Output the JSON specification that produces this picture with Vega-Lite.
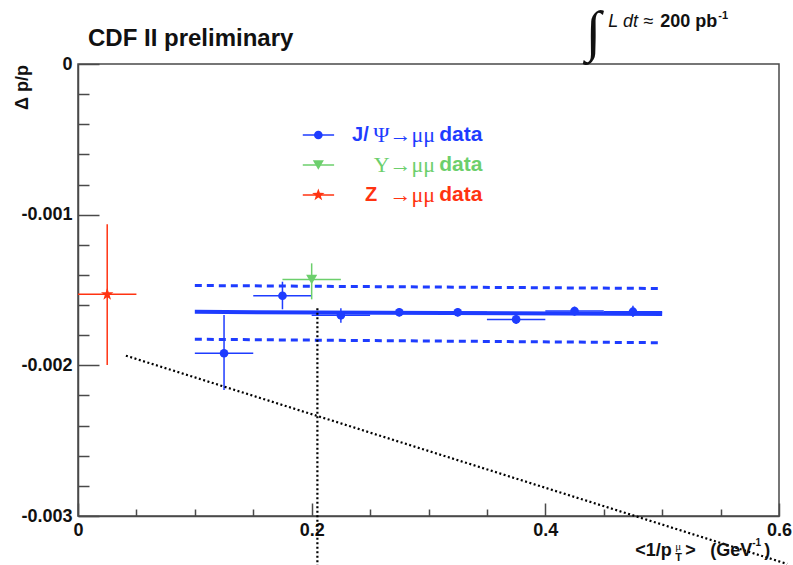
{
  "$schema": "https://vega.github.io/schema/vega-lite/v6.json",
  "width": 701,
  "height": 452,
  "autosize": {"type": "none"},
  "padding": {"left": 78, "top": 64, "right": 14, "bottom": 49},
  "background": "white",
  "config": {
    "view": {"stroke": "#4a4a4a", "strokeWidth": 1.5},
    "axis": {
      "grid": false,
      "domainColor": "#4a4a4a",
      "domainWidth": 1.5,
      "tickColor": "#4a4a4a",
      "tickWidth": 1.5,
      "labelFont": "Liberation Sans",
      "labelFontWeight": "bold",
      "labelFontSize": 18,
      "labelColor": "#111111",
      "labelFlush": false,
      "labelOverlap": false,
      "labelBound": false
    },
    "text": {"font": "Liberation Sans", "color": "#111111"}
  },
  "datasets": {
    "meas": [
      {"series": "J/psi", "x": 0.125, "xlo": 0.1, "xhi": 0.15, "y": -0.00192, "ylo": -0.002164, "yhi": -0.001666},
      {"series": "J/psi", "x": 0.175, "xlo": 0.15, "xhi": 0.2, "y": -0.001538, "ylo": -0.001628, "yhi": -0.001445},
      {"series": "J/psi", "x": 0.225, "xlo": 0.2, "xhi": 0.25, "y": -0.001668, "ylo": -0.001718, "yhi": -0.001621},
      {"series": "J/psi", "x": 0.275, "xlo": 0.25, "xhi": 0.3, "y": -0.001648, "ylo": -0.001675, "yhi": -0.00162},
      {"series": "J/psi", "x": 0.325, "xlo": 0.3, "xhi": 0.35, "y": -0.001648, "ylo": -0.001675, "yhi": -0.00162},
      {"series": "J/psi", "x": 0.375, "xlo": 0.35, "xhi": 0.4, "y": -0.001695, "ylo": -0.001725, "yhi": -0.001665},
      {"series": "J/psi", "x": 0.425, "xlo": 0.4, "xhi": 0.45, "y": -0.00164, "ylo": -0.00167, "yhi": -0.00161},
      {"series": "J/psi", "x": 0.475, "xlo": 0.45, "xhi": 0.5, "y": -0.001644, "ylo": -0.00168, "yhi": -0.001605},
      {"series": "Upsilon", "x": 0.2, "xlo": 0.175, "xhi": 0.225, "y": -0.00143, "ylo": -0.001562, "yhi": -0.001323},
      {"series": "Z", "x": 0.025, "xlo": 0.0, "xhi": 0.05, "y": -0.001529, "ylo": -0.001998, "yhi": -0.001064}
    ],
    "fit": [
      {"band": "fit", "x": 0.1, "y": -0.001645},
      {"band": "fit", "x": 0.5, "y": -0.00166},
      {"band": "upper", "x": 0.1, "y": -0.00147},
      {"band": "upper", "x": 0.5, "y": -0.00149},
      {"band": "lower", "x": 0.1, "y": -0.001827},
      {"band": "lower", "x": 0.5, "y": -0.00185}
    ],
    "guides": [
      {"name": "slope", "x": 0.041, "y": -0.001936},
      {"name": "slope", "x": 0.607, "y": -0.003318},
      {"name": "cut", "x": 0.2049, "y": -0.001621},
      {"name": "cut", "x": 0.2049, "y": -0.003325}
    ],
    "legend": [
      {"series": "J/psi", "y": -0.000471},
      {"series": "Upsilon", "y": -0.00067},
      {"series": "Z", "y": -0.000869}
    ],
    "anchor": [{}]
  },
  "layer": [
    {
      "data": {"name": "meas"},
      "mark": {"type": "rule", "strokeWidth": 1.5},
      "encoding": {
        "x": {
          "field": "xlo", "type": "quantitative", "title": null,
          "scale": {"domain": [0, 0.6], "nice": false},
          "axis": {
            "values": [0, 0.05, 0.1, 0.15, 0.2, 0.25, 0.3, 0.35, 0.4, 0.45, 0.5, 0.55, 0.6],
            "tickCount": 30,
            "labelExpr": "abs(datum.value*5 - round(datum.value*5)) < 1e-6 ? (datum.value == 0 ? '0' : format(datum.value, '.1f')) : ''",
            "tickSize": {"condition": {"test": "abs(datum.value*5 - round(datum.value*5)) < 1e-6", "value": -13}, "value": -7},
            "labelPadding": 18,
            "labelOverlap": false,
            "labelFlush": false
          }
        },
        "x2": {"field": "xhi"},
        "y": {
          "field": "y", "type": "quantitative", "title": null,
          "scale": {"domain": [-0.003, 0], "nice": false},
          "axis": {
            "values": [-0.003, -0.0028, -0.0026, -0.0024, -0.0022, -0.002, -0.0018, -0.0016, -0.0014, -0.0012, -0.001, -0.0008, -0.0006, -0.0004, -0.0002, 0],
            "tickCount": 30,
            "labelExpr": "abs(datum.value*1000 - round(datum.value*1000)) < 1e-6 ? (datum.value == 0 ? '0' : '-0.00' + round(-datum.value*1000)) : ''",
            "tickSize": {"condition": {"test": "abs(datum.value*1000 - round(datum.value*1000)) < 1e-6", "value": -21}, "value": -11},
            "labelPadding": 27,
            "labelOverlap": false,
            "labelFlush": false
          }
        },
        "color": {"field": "series", "type": "nominal", "legend": null,
          "scale": {"domain": ["J/psi", "Upsilon", "Z"], "range": ["#1e3cff", "#6ccf6c", "#ff3311"]}}
      }
    },
    {
      "data": {"name": "meas"},
      "mark": {"type": "rule", "strokeWidth": 1.5},
      "encoding": {
        "x": {"field": "x", "type": "quantitative", "title": null, "scale": {"domain": [0, 0.6], "nice": false}},
        "y": {"field": "ylo", "type": "quantitative", "title": null, "scale": {"domain": [-0.003, 0], "nice": false}},
        "y2": {"field": "yhi"},
        "color": {"field": "series", "type": "nominal", "legend": null}
      }
    },
    {
      "data": {"name": "fit"},
      "transform": [{"filter": "datum.band == 'fit'"}],
      "mark": {"type": "line", "strokeWidth": 4, "color": "#1e3cff"},
      "encoding": {
        "x": {"field": "x", "type": "quantitative", "title": null, "scale": {"domain": [0, 0.6], "nice": false}},
        "y": {"field": "y", "type": "quantitative", "title": null, "scale": {"domain": [-0.003, 0], "nice": false}}
      }
    },
    {
      "data": {"name": "fit"},
      "transform": [{"filter": "datum.band != 'fit'"}],
      "mark": {"type": "line", "strokeWidth": 3, "color": "#1e3cff", "strokeDash": [7, 5], "strokeCap": "butt"},
      "encoding": {
        "x": {"field": "x", "type": "quantitative", "title": null, "scale": {"domain": [0, 0.6], "nice": false}},
        "y": {"field": "y", "type": "quantitative", "title": null, "scale": {"domain": [-0.003, 0], "nice": false}},
        "detail": {"field": "band", "type": "nominal"}
      }
    },
    {
      "data": {"name": "guides"},
      "mark": {"type": "line", "strokeWidth": 2.2, "color": "#000000", "strokeDash": [2, 2.5], "strokeCap": "butt"},
      "encoding": {
        "x": {"field": "x", "type": "quantitative", "title": null, "scale": {"domain": [0, 0.6], "nice": false}},
        "y": {"field": "y", "type": "quantitative", "title": null, "scale": {"domain": [-0.003, 0], "nice": false}},
        "detail": {"field": "name", "type": "nominal"}
      }
    },
    {
      "data": {"name": "meas"},
      "mark": {"type": "point", "filled": true, "opacity": 1},
      "encoding": {
        "x": {"field": "x", "type": "quantitative", "title": null, "scale": {"domain": [0, 0.6], "nice": false}},
        "y": {"field": "y", "type": "quantitative", "title": null, "scale": {"domain": [-0.003, 0], "nice": false}},
        "color": {"field": "series", "type": "nominal", "legend": null},
        "shape": {"field": "series", "type": "nominal", "legend": null,
          "scale": {"domain": ["J/psi", "Upsilon", "Z"],
            "range": ["circle", "triangle-down", "M0,-1L0.235,-0.324L0.951,-0.309L0.38,0.124L0.588,0.809L0,0.4L-0.588,0.809L-0.38,0.124L-0.951,-0.309L-0.235,-0.324Z"]}},
        "size": {"field": "series", "type": "nominal", "legend": null,
          "scale": {"domain": ["J/psi", "Upsilon", "Z"], "range": [75, 170, 210]}}
      }
    },
    {
      "data": {"name": "legend"},
      "mark": {"type": "rule", "strokeWidth": 1.5},
      "encoding": {
        "x": {"datum": 0.1924, "type": "quantitative", "title": null, "scale": {"domain": [0, 0.6], "nice": false}},
        "x2": {"datum": 0.2192},
        "y": {"field": "y", "type": "quantitative", "title": null, "scale": {"domain": [-0.003, 0], "nice": false}},
        "color": {"field": "series", "type": "nominal", "legend": null}
      }
    },
    {
      "data": {"name": "legend"},
      "mark": {"type": "point", "filled": true, "opacity": 1},
      "encoding": {
        "x": {"datum": 0.2057, "type": "quantitative", "title": null, "scale": {"domain": [0, 0.6], "nice": false}},
        "y": {"field": "y", "type": "quantitative", "title": null, "scale": {"domain": [-0.003, 0], "nice": false}},
        "color": {"field": "series", "type": "nominal", "legend": null},
        "shape": {"field": "series", "type": "nominal", "legend": null},
        "size": {"field": "series", "type": "nominal", "legend": null}
      }
    },
    {
      "data": {"name": "legend"},
      "transform": [{"filter": "datum.series == 'J/psi'"}],
      "mark": {"type": "text", "align": "left", "baseline": "middle", "font": "Liberation Sans", "fontWeight": "bold", "fontSize": 20},
      "encoding": {
        "x": {"datum": 0.2346, "type": "quantitative", "title": null, "scale": {"domain": [0, 0.6], "nice": false}},
        "y": {"field": "y", "type": "quantitative", "title": null, "scale": {"domain": [-0.003, 0], "nice": false}},
        "text": {"value": "J/"},
        "color": {"field": "series", "type": "nominal", "legend": null}
      }
    },
    {
      "data": {"name": "legend"},
      "transform": [{"filter": "datum.series == 'Z'"}],
      "mark": {"type": "text", "align": "left", "baseline": "middle", "font": "Liberation Sans", "fontWeight": "bold", "fontSize": 20},
      "encoding": {
        "x": {"datum": 0.2457, "type": "quantitative", "title": null, "scale": {"domain": [0, 0.6], "nice": false}},
        "y": {"field": "y", "type": "quantitative", "title": null, "scale": {"domain": [-0.003, 0], "nice": false}},
        "text": {"value": "Z"},
        "color": {"field": "series", "type": "nominal", "legend": null}
      }
    },
    {
      "data": {"name": "legend"},
      "transform": [{"calculate": "datum.series == 'J/psi' ? 'Ψ→μμ' : datum.series == 'Upsilon' ? 'Υ→μμ' : '→μμ'", "as": "label"}],
      "mark": {"type": "text", "align": "right", "baseline": "middle", "font": "Liberation Serif", "fontSize": 22},
      "encoding": {
        "x": {"datum": 0.3057, "type": "quantitative", "title": null, "scale": {"domain": [0, 0.6], "nice": false}},
        "y": {"field": "y", "type": "quantitative", "title": null, "scale": {"domain": [-0.003, 0], "nice": false}},
        "text": {"field": "label"},
        "color": {"field": "series", "type": "nominal", "legend": null}
      }
    },
    {
      "data": {"name": "legend"},
      "mark": {"type": "text", "align": "left", "baseline": "middle", "font": "Liberation Sans", "fontWeight": "bold", "fontSize": 21},
      "encoding": {
        "x": {"datum": 0.3091, "type": "quantitative", "title": null, "scale": {"domain": [0, 0.6], "nice": false}},
        "y": {"field": "y", "type": "quantitative", "title": null, "scale": {"domain": [-0.003, 0], "nice": false}},
        "text": {"value": "data"},
        "color": {"field": "series", "type": "nominal", "legend": null}
      }
    },
    {
      "data": {"name": "anchor"},
      "mark": {"type": "text", "align": "left", "baseline": "alphabetic", "fontWeight": "bold", "fontSize": 24},
      "encoding": {
        "x": {"datum": 0.00856, "type": "quantitative", "title": null, "scale": {"domain": [0, 0.6], "nice": false}},
        "y": {"datum": 0.0001195, "type": "quantitative", "title": null, "scale": {"domain": [-0.003, 0], "nice": false}},
        "text": {"value": "CDF II preliminary"}
      }
    },
    {
      "data": {"name": "anchor"},
      "mark": {"type": "text", "align": "right", "baseline": "middle", "fontWeight": "bold", "fontSize": 18, "angle": 270},
      "encoding": {
        "x": {"datum": -0.04709, "type": "quantitative", "title": null, "scale": {"domain": [0, 0.6], "nice": false}},
        "y": {"datum": -0.000007, "type": "quantitative", "title": null, "scale": {"domain": [-0.003, 0], "nice": false}},
        "text": {"value": "Δ p/p"}
      }
    },
    {
      "data": {"name": "anchor"},
      "mark": {"type": "text", "align": "center", "baseline": "middle", "font": "Liberation Serif", "fontSize": 56},
      "encoding": {
        "x": {"datum": 0.4409, "type": "quantitative", "title": null, "scale": {"domain": [0, 0.6], "nice": false}},
        "y": {"datum": 0.000205, "type": "quantitative", "title": null, "scale": {"domain": [-0.003, 0], "nice": false}},
        "text": {"value": "∫"}
      }
    },
    {
      "data": {"name": "anchor"},
      "mark": {"type": "text", "align": "left", "baseline": "alphabetic", "fontStyle": "italic", "fontSize": 18},
      "encoding": {
        "x": {"datum": 0.4538, "type": "quantitative", "title": null, "scale": {"domain": [0, 0.6], "nice": false}},
        "y": {"datum": 0.0002456, "type": "quantitative", "title": null, "scale": {"domain": [-0.003, 0], "nice": false}},
        "text": {"value": "L dt ≈"}
      }
    },
    {
      "data": {"name": "anchor"},
      "mark": {"type": "text", "align": "left", "baseline": "alphabetic", "fontWeight": "bold", "fontSize": 18},
      "encoding": {
        "x": {"datum": 0.4983, "type": "quantitative", "title": null, "scale": {"domain": [0, 0.6], "nice": false}},
        "y": {"datum": 0.0002456, "type": "quantitative", "title": null, "scale": {"domain": [-0.003, 0], "nice": false}},
        "text": {"value": "200 pb"}
      }
    },
    {
      "data": {"name": "anchor"},
      "mark": {"type": "text", "align": "left", "baseline": "alphabetic", "fontWeight": "bold", "fontSize": 11},
      "encoding": {
        "x": {"datum": 0.548, "type": "quantitative", "title": null, "scale": {"domain": [0, 0.6], "nice": false}},
        "y": {"datum": 0.0002987, "type": "quantitative", "title": null, "scale": {"domain": [-0.003, 0], "nice": false}},
        "text": {"value": "-1"}
      }
    },
    {
      "data": {"values": [{"t": "<1/p", "x": 0.4769}, {"t": ">", "x": 0.5197}, {"t": "(GeV", "x": 0.5411}, {"t": ")", "x": 0.5873}]},
      "mark": {"type": "text", "align": "left", "baseline": "alphabetic", "fontWeight": "bold", "fontSize": 18},
      "encoding": {
        "x": {"field": "x", "type": "quantitative", "title": null, "scale": {"domain": [0, 0.6], "nice": false}},
        "y": {"datum": -0.003265, "type": "quantitative", "title": null, "scale": {"domain": [-0.003, 0], "nice": false}},
        "text": {"field": "t"}
      }
    },
    {
      "data": {"name": "anchor"},
      "mark": {"type": "text", "align": "left", "baseline": "alphabetic", "fontWeight": "bold", "fontSize": 11},
      "encoding": {
        "x": {"datum": 0.5111, "type": "quantitative", "title": null, "scale": {"domain": [0, 0.6], "nice": false}},
        "y": {"datum": -0.003298, "type": "quantitative", "title": null, "scale": {"domain": [-0.003, 0], "nice": false}},
        "text": {"value": "T"}
      }
    },
    {
      "data": {"name": "anchor"},
      "mark": {"type": "text", "align": "left", "baseline": "alphabetic", "font": "Liberation Serif", "fontSize": 11},
      "encoding": {
        "x": {"datum": 0.5111, "type": "quantitative", "title": null, "scale": {"domain": [0, 0.6], "nice": false}},
        "y": {"datum": -0.003226, "type": "quantitative", "title": null, "scale": {"domain": [-0.003, 0], "nice": false}},
        "text": {"value": "μ"}
      }
    },
    {
      "data": {"name": "anchor"},
      "mark": {"type": "text", "align": "left", "baseline": "alphabetic", "fontWeight": "bold", "fontSize": 10},
      "encoding": {
        "x": {"datum": 0.5771, "type": "quantitative", "title": null, "scale": {"domain": [0, 0.6], "nice": false}},
        "y": {"datum": -0.003199, "type": "quantitative", "title": null, "scale": {"domain": [-0.003, 0], "nice": false}},
        "text": {"value": "-1"}
      }
    }
  ]
}
